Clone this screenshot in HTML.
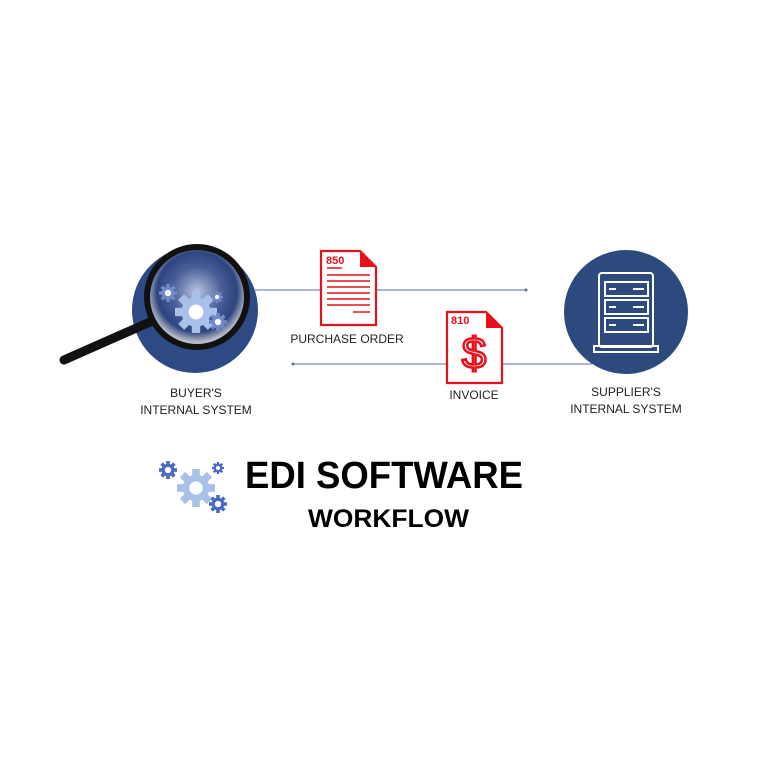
<!DOCTYPE html>
<html><head><style>
body{margin:0;background:#fff;width:768px;height:768px;overflow:hidden;font-family:"Liberation Sans",sans-serif}
</style></head><body>
<svg width="768" height="768" viewBox="0 0 768 768" xmlns="http://www.w3.org/2000/svg">
<defs>
<radialGradient id="lens" cx="50%" cy="45%" r="50%">
<stop offset="0" stop-color="#b7c3e0"/><stop offset="0.5" stop-color="#4a5f98"/><stop offset="0.8" stop-color="#2d4480"/><stop offset="1" stop-color="#b8bcc6"/>
</radialGradient>
<g id="gear">
<circle r="14" fill="currentColor"/>
<g fill="currentColor">
<rect x="-4" y="-20" width="8" height="40"/><rect x="-4" y="-20" width="8" height="40" transform="rotate(45)"/>
<rect x="-4" y="-20" width="8" height="40" transform="rotate(90)"/><rect x="-4" y="-20" width="8" height="40" transform="rotate(135)"/>
</g>
<circle r="7" fill="#fff"/>
</g>
</defs>
<line x1="255" y1="290" x2="526" y2="290" stroke="#5b6fa0" stroke-width="1"/>
<circle cx="526" cy="290" r="1.5" fill="#5b6fa0"/>
<line x1="293" y1="364" x2="592" y2="364" stroke="#5b6fa0" stroke-width="1"/>
<circle cx="293" cy="364" r="1.5" fill="#5b6fa0"/>
<!-- buyer -->
<circle cx="195" cy="310" r="63" fill="#2d4a85"/>
<line x1="64" y1="360" x2="150" y2="322" stroke="#111" stroke-width="9" stroke-linecap="round"/>
<circle cx="197" cy="297" r="50" fill="url(#lens)" stroke="#111" stroke-width="6"/>
<g color="#a9c0e8"><use href="#gear" transform="translate(196,312) scale(1.05)"/></g>
<g color="#7189c8"><use href="#gear" transform="translate(168,293) scale(0.45)"/><use href="#gear" transform="translate(218,322) scale(0.45)"/><use href="#gear" transform="translate(217,297) scale(0.3)"/></g>
<text x="196" y="397" font-size="12" text-anchor="middle" fill="#222">BUYER'S</text>
<text x="196" y="414" font-size="12" text-anchor="middle" fill="#222">INTERNAL SYSTEM</text>
<!-- PO doc -->
<path d="M321,251 H360 L376,267 V325 H321 Z" fill="#fff" stroke="#e8101a" stroke-width="2.2"/>
<path d="M360,251 V267 H376 Z" fill="#e8101a"/>
<text x="326" y="264" font-size="11" font-weight="bold" fill="#e8101a">850</text>
<g stroke="#e8101a" stroke-width="1.5">
<line x1="327" y1="268" x2="342" y2="268"/><line x1="327" y1="275" x2="370" y2="275"/><line x1="327" y1="281" x2="370" y2="281"/><line x1="327" y1="287" x2="370" y2="287"/><line x1="327" y1="293" x2="370" y2="293"/><line x1="327" y1="299" x2="370" y2="299"/><line x1="327" y1="305" x2="370" y2="305"/><line x1="353" y1="312" x2="370" y2="312"/>
</g>
<text x="347" y="343" font-size="12" text-anchor="middle" fill="#222">PURCHASE ORDER</text>
<!-- invoice doc -->
<path d="M447,312 H486 L502,328 V383 H447 Z" fill="#fff" stroke="#e8101a" stroke-width="2.2"/>
<path d="M486,312 V328 H502 Z" fill="#e8101a"/>
<text x="451" y="324" font-size="11" font-weight="bold" fill="#e8101a">810</text>
<text x="474" y="368" font-size="44" text-anchor="middle" fill="#fff" stroke="#e8101a" stroke-width="2.5">$</text>
<text x="474" y="399" font-size="12" text-anchor="middle" fill="#222">INVOICE</text>
<!-- supplier -->
<circle cx="626" cy="312" r="62" fill="#2d4a7f"/>
<g fill="none" stroke="#fff" stroke-width="2">
<rect x="599" y="273" width="54" height="74" rx="3"/>
<rect x="605" y="282" width="43" height="14"/><rect x="605" y="300" width="43" height="14"/><rect x="605" y="318" width="43" height="14"/>
<rect x="594" y="346" width="64" height="6"/>
</g>
<g stroke="#fff" stroke-width="2">
<line x1="609" y1="289" x2="616" y2="289"/><line x1="633" y1="289" x2="644" y2="289"/>
<line x1="609" y1="307" x2="616" y2="307"/><line x1="633" y1="307" x2="644" y2="307"/>
<line x1="609" y1="325" x2="616" y2="325"/><line x1="633" y1="325" x2="644" y2="325"/>
</g>
<text x="626" y="396" font-size="12" text-anchor="middle" fill="#222">SUPPLIER'S</text>
<text x="626" y="413" font-size="12" text-anchor="middle" fill="#222">INTERNAL SYSTEM</text>
<!-- title gears -->
<g color="#a9c0e8"><use href="#gear" transform="translate(196,488) scale(0.95)"/></g>
<g color="#4a69c0"><use href="#gear" transform="translate(168,470) scale(0.45)"/><use href="#gear" transform="translate(218,504) scale(0.45)"/><use href="#gear" transform="translate(218,468) scale(0.3)"/></g>
<text x="245" y="488" font-size="38" font-weight="bold" fill="#000" textLength="278" lengthAdjust="spacingAndGlyphs">EDI SOFTWARE</text>
<text x="308" y="527" font-size="25" font-weight="bold" fill="#000" textLength="161" lengthAdjust="spacingAndGlyphs">WORKFLOW</text>
</svg>
</body></html>
